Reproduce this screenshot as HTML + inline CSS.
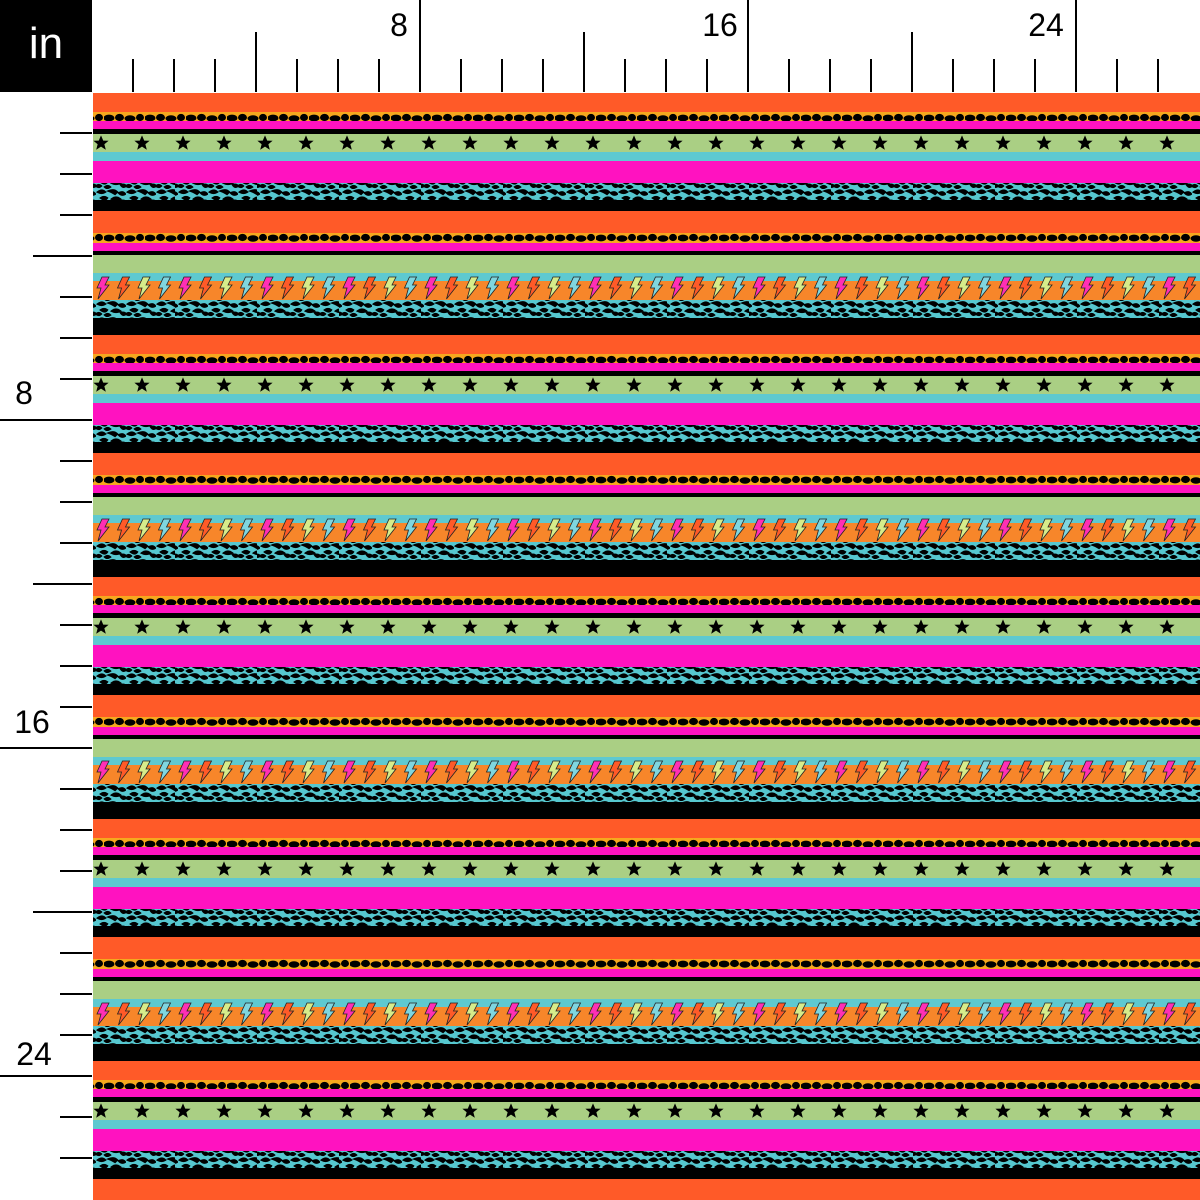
<!DOCTYPE html>
<html><head><style>
html,body{margin:0;padding:0;background:#fff;width:1200px;height:1200px;overflow:hidden}
text{font-family:"Liberation Sans",sans-serif}
</style></head><body>
<svg width="1200" height="1200" viewBox="0 0 1200 1200" xmlns="http://www.w3.org/2000/svg">
<defs>
<symbol id="st" viewBox="-10 -10 20 20"><path d="M0,-9.5 L2.8,-3 9.5,-2.8 4.2,1.5 6,8.5 0,4.6 -6,8.5 -4.2,1.5 -9.5,-2.8 -2.8,-3Z" fill="#000"/></symbol>
<path id="bolt" d="M3,0 L10,0 6,8 10,8 -1,22 2,11 -2,11Z" stroke="#222" stroke-width="0.8"/>
<pattern id="leoY" x="93" y="0" width="41" height="10" patternUnits="userSpaceOnUse">
<rect width="41" height="10" fill="#f6a81e"/>
<ellipse cx="5" cy="5" rx="5.5" ry="3.4" fill="#000"/>
<ellipse cx="15.5" cy="4.5" rx="4.5" ry="3.6" fill="#000"/>
<ellipse cx="26" cy="5.5" rx="5.5" ry="3.2" fill="#000"/>
<ellipse cx="36" cy="4.5" rx="4" ry="3.6" fill="#000"/>
</pattern>
<pattern id="leoT" x="93" y="0" width="30" height="16" patternUnits="userSpaceOnUse">
<rect width="30" height="16" fill="#56c7cf"/>
<path d="M2,3 q4,-3 7,0 q-3,2 -7,0Z M13,2 q5,-2 8,1 l-2,2 q-3,-2 -6,-3Z M23,4 q4,-2 6,1 q-3,2 -6,-1Z M5,9 q3,-2 6,0 q-2,3 -6,0Z M16,10 q4,-3 8,0 q-4,2 -8,0Z M0,13 q3,-2 5,0 q-2,2 -5,0Z M25,12 q3,-1 5,1 q-3,2 -5,-1Z M9,14 q3,-2 5,0 q-3,2 -5,0Z" fill="#000" stroke="#000" stroke-width="2.2"/>
</pattern>
<pattern id="rep" x="93" y="93" width="82" height="242" patternUnits="userSpaceOnUse">
<rect x="0" y="0" width="82" height="19" fill="#ff5a28"/>
<rect x="0" y="19" width="82" height="9" fill="url(#leoY)"/>
<rect x="0" y="28" width="82" height="8" fill="#ff12c0"/>
<rect x="0" y="36" width="82" height="5" fill="#000"/>
<rect x="0" y="41" width="82" height="18" fill="#aacf84"/>
<use href="#st" x="0" y="42" width="16" height="16"/>
<use href="#st" x="41" y="42" width="16" height="16"/>
<rect x="0" y="59" width="82" height="9" fill="#5ec9d0"/>
<rect x="0" y="68" width="82" height="22" fill="#ff12c0"/>
<rect x="0" y="90" width="82" height="17" fill="url(#leoT)"/>
<rect x="0" y="107" width="82" height="11" fill="#000"/>
<rect x="0" y="118" width="82" height="22" fill="#ff5a28"/>
<rect x="0" y="140" width="82" height="10" fill="url(#leoY)"/>
<rect x="0" y="150" width="82" height="8" fill="#ff12c0"/>
<rect x="0" y="158" width="82" height="4" fill="#000"/>
<rect x="0" y="162" width="82" height="18" fill="#aacf84"/>
<rect x="0" y="180" width="82" height="8" fill="#5ec9d0"/>
<rect x="0" y="188" width="82" height="19" fill="#f7862a"/>
<use href="#bolt" x="6" y="184" fill="#ff2fb4"/>
<use href="#bolt" x="26.5" y="184" fill="#ff5a28"/>
<use href="#bolt" x="47" y="184" fill="#d6ec8a"/>
<use href="#bolt" x="67.5" y="184" fill="#7fd6df"/>
<rect x="0" y="207" width="82" height="18" fill="url(#leoT)"/>
<rect x="0" y="225" width="82" height="17" fill="#000"/>
</pattern>
</defs>
<rect x="93" y="93" width="1107" height="1107" fill="url(#rep)"/>
<rect x="0" y="0" width="92" height="92" fill="#000"/>
<text x="46" y="58" font-size="44" fill="#fff" text-anchor="middle">in</text>
<g stroke="#000" stroke-width="2">
<line x1="133" y1="59" x2="133" y2="92"/><line x1="174" y1="59" x2="174" y2="92"/><line x1="215" y1="59" x2="215" y2="92"/><line x1="256" y1="32" x2="256" y2="92"/><line x1="297" y1="59" x2="297" y2="92"/><line x1="338" y1="59" x2="338" y2="92"/><line x1="379" y1="59" x2="379" y2="92"/><line x1="420" y1="0" x2="420" y2="92"/><line x1="461" y1="59" x2="461" y2="92"/><line x1="502" y1="59" x2="502" y2="92"/><line x1="543" y1="59" x2="543" y2="92"/><line x1="584" y1="32" x2="584" y2="92"/><line x1="625" y1="59" x2="625" y2="92"/><line x1="666" y1="59" x2="666" y2="92"/><line x1="707" y1="59" x2="707" y2="92"/><line x1="748" y1="0" x2="748" y2="92"/><line x1="789" y1="59" x2="789" y2="92"/><line x1="830" y1="59" x2="830" y2="92"/><line x1="871" y1="59" x2="871" y2="92"/><line x1="912" y1="32" x2="912" y2="92"/><line x1="953" y1="59" x2="953" y2="92"/><line x1="994" y1="59" x2="994" y2="92"/><line x1="1035" y1="59" x2="1035" y2="92"/><line x1="1076" y1="0" x2="1076" y2="92"/><line x1="1117" y1="59" x2="1117" y2="92"/><line x1="1158" y1="59" x2="1158" y2="92"/>
<line y1="133" x1="60" y2="133" x2="92"/><line y1="174" x1="60" y2="174" x2="92"/><line y1="215" x1="60" y2="215" x2="92"/><line y1="256" x1="33" y2="256" x2="92"/><line y1="297" x1="60" y2="297" x2="92"/><line y1="338" x1="60" y2="338" x2="92"/><line y1="379" x1="60" y2="379" x2="92"/><line y1="420" x1="0" y2="420" x2="92"/><line y1="461" x1="60" y2="461" x2="92"/><line y1="502" x1="60" y2="502" x2="92"/><line y1="543" x1="60" y2="543" x2="92"/><line y1="584" x1="33" y2="584" x2="92"/><line y1="625" x1="60" y2="625" x2="92"/><line y1="666" x1="60" y2="666" x2="92"/><line y1="707" x1="60" y2="707" x2="92"/><line y1="748" x1="0" y2="748" x2="92"/><line y1="789" x1="60" y2="789" x2="92"/><line y1="830" x1="60" y2="830" x2="92"/><line y1="871" x1="60" y2="871" x2="92"/><line y1="912" x1="33" y2="912" x2="92"/><line y1="953" x1="60" y2="953" x2="92"/><line y1="994" x1="60" y2="994" x2="92"/><line y1="1035" x1="60" y2="1035" x2="92"/><line y1="1076" x1="0" y2="1076" x2="92"/><line y1="1117" x1="60" y2="1117" x2="92"/><line y1="1158" x1="60" y2="1158" x2="92"/>
</g>
<g font-size="32" fill="#000">
<text x="399" y="36" text-anchor="middle">8</text>
<text x="720" y="36" text-anchor="middle">16</text>
<text x="1046" y="36" text-anchor="middle">24</text>
<text x="24" y="404" text-anchor="middle">8</text>
<text x="32" y="733" text-anchor="middle">16</text>
<text x="34" y="1065" text-anchor="middle">24</text>
</g>
</svg>
</body></html>
